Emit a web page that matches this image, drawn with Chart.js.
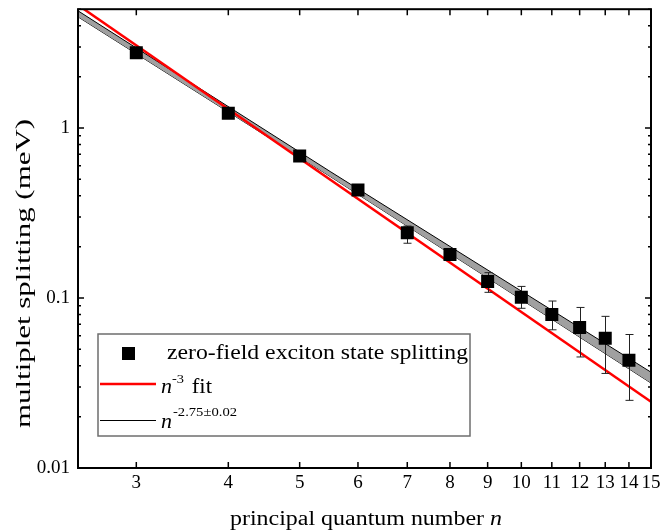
<!DOCTYPE html>
<html><head><meta charset="utf-8">
<script src="https://cdn.jsdelivr.net/npm/chart.js@4/dist/chart.umd.min.js"></script>
<style>html,body{margin:0;padding:0;background:#fff}</style>
</head><body>
<canvas id="c" width="663" height="532"></canvas>
<script>
// ---- data ----
const nValues   = [3, 4, 5, 6, 7, 8, 9, 10, 11, 12, 13, 14];
const splitting = [2.77, 1.22, 0.684, 0.432, 0.242, 0.18, 0.125, 0.101, 0.080, 0.067, 0.058, 0.043];
const errHigh   = [null, null, null, null, 0.265, null, 0.141, 0.117, 0.096, 0.088, 0.078, 0.061];
const errLow    = [null, null, null, null, 0.21, null, 0.108, 0.087, 0.065, 0.045, 0.036, 0.025];
const cubeFitN  = [2.5, 15];
const cubeFit   = [5.29, 0.0245];
const powFitN   = [2.5, 15];
const powFit    = [4.7, 0.034];
const bandN     = [2.5, 5.5, 15];
const bandUpper = [4.89, 0.555, 0.0366];
const bandLower = [4.51, 0.519, 0.0316];
const xTickValues = [3, 4, 5, 6, 7, 8, 9, 10, 11, 12, 13, 14, 15];
const yMajorTicks = [0.01, 0.1, 1];
const yTickLabels = ['0.01', '0.1', '1'];
const yMinorTicks = [0.02, 0.03, 0.04, 0.05, 0.06, 0.07, 0.08, 0.09, 0.2, 0.3, 0.4, 0.5, 0.6, 0.7, 0.8, 0.9, 2, 3, 4, 5];
const legendLabels = ['zero-field exciton state splitting', 'n', '-3', ' fit', 'n', '-2.75\u00B10.02'];
const xTitleParts = ['principal quantum number ', 'n'];
const yTitle = 'multiplet splitting (meV)';

const SERIF = '"Liberation Serif", "Times New Roman", serif';
const pts = (xs, ys) => xs.map((x, i) => ({x: x, y: ys[i]}));

function fitText(ctx, txt, x, y, font, width) {
  ctx.save();
  ctx.font = font;
  const w = ctx.measureText(txt).width;
  const s = width ? width / w : 1;
  ctx.translate(x, y);
  ctx.scale(s, 1);
  ctx.textAlign = 'left';
  ctx.textBaseline = 'alphabetic';
  ctx.fillText(txt, 0, 0);
  ctx.restore();
  return w * s;
}

const decor = {
  id: 'decor',
  beforeDatasetDraw(chart, args) {
    if (args.index !== 0) return;
    const ctx = chart.ctx, xs = chart.scales.x, ys = chart.scales.y;
    ctx.save();
    ctx.strokeStyle = '#222';
    ctx.lineWidth = 1;
    nValues.forEach((n, i) => {
      if (errHigh[i] == null) return;
      const px = Math.round(xs.getPixelForValue(n)) + 0.5;
      const y1 = ys.getPixelForValue(errHigh[i]);
      const y2 = ys.getPixelForValue(errLow[i]);
      ctx.beginPath();
      ctx.moveTo(px, y1); ctx.lineTo(px, y2);
      ctx.moveTo(px - 4, y1); ctx.lineTo(px + 4, y1);
      ctx.moveTo(px - 4, y2); ctx.lineTo(px + 4, y2);
      ctx.stroke();
    });
    ctx.restore();
  },
  afterDraw(chart) {
    const ctx = chart.ctx, a = chart.chartArea, xs = chart.scales.x, ys = chart.scales.y;
    ctx.save();
    // ticks (inward, mirrored)
    ctx.strokeStyle = '#000';
    ctx.lineWidth = 1.5;
    ctx.beginPath();
    xTickValues.forEach(v => {
      const p = xs.getPixelForValue(v);
      ctx.moveTo(p, a.bottom); ctx.lineTo(p, a.bottom - 6);
      ctx.moveTo(p, a.top); ctx.lineTo(p, a.top + 6);
    });
    yMajorTicks.forEach(v => {
      const p = ys.getPixelForValue(v);
      ctx.moveTo(a.left, p); ctx.lineTo(a.left + 6, p);
      ctx.moveTo(a.right, p); ctx.lineTo(a.right - 6, p);
    });
    yMinorTicks.forEach(v => {
      const p = ys.getPixelForValue(v);
      ctx.moveTo(a.left, p); ctx.lineTo(a.left + 3, p);
      ctx.moveTo(a.right, p); ctx.lineTo(a.right - 3, p);
    });
    ctx.stroke();
    // frame
    ctx.lineWidth = 2;
    ctx.strokeRect(a.left, a.top, a.right - a.left, a.bottom - a.top);

    // legend
    ctx.fillStyle = '#fff';
    ctx.fillRect(98, 334, 372, 102);
    ctx.strokeStyle = '#6e6e6e';
    ctx.lineWidth = 1.5;
    ctx.strokeRect(98, 334, 372, 102);
    ctx.fillStyle = '#000';
    ctx.fillRect(122, 347, 13, 13);
    fitText(ctx, legendLabels[0], 167, 359, '20px ' + SERIF, 301);
    ctx.strokeStyle = '#ff0000';
    ctx.lineWidth = 2.5;
    ctx.beginPath(); ctx.moveTo(100, 384); ctx.lineTo(156, 384); ctx.stroke();
    fitText(ctx, legendLabels[1], 161, 393, 'italic 20px ' + SERIF, 11);
    fitText(ctx, legendLabels[2], 172, 383, '13px ' + SERIF, 12);
    fitText(ctx, legendLabels[3], 186, 393, '20px ' + SERIF, 26);
    ctx.strokeStyle = '#000';
    ctx.lineWidth = 1;
    ctx.beginPath(); ctx.moveTo(100, 420.5); ctx.lineTo(156, 420.5); ctx.stroke();
    fitText(ctx, legendLabels[4], 161, 428, 'italic 20px ' + SERIF, 11);
    fitText(ctx, legendLabels[5], 173, 416, '12px ' + SERIF, 64);

    // axis titles
    ctx.font = '20px ' + SERIF;
    const w1 = ctx.measureText(xTitleParts[0]).width;
    ctx.font = 'italic 20px ' + SERIF;
    const w2 = ctx.measureText(xTitleParts[1]).width;
    const s = 272 / (w1 + w2);
    fitText(ctx, xTitleParts[0], 230, 525, '20px ' + SERIF, w1 * s);
    fitText(ctx, xTitleParts[1], 230 + w1 * s, 525, 'italic 20px ' + SERIF, w2 * s);

    ctx.save();
    ctx.translate(30, 273.5);
    ctx.rotate(-Math.PI / 2);
    fitText(ctx, yTitle, -154.5, 0, '21px ' + SERIF, 309);
    ctx.restore();
    ctx.restore();
  }
};

new Chart(document.getElementById('c'), {
  type: 'line',
  data: {
    datasets: [
      {
        label: 'zero-field exciton state splitting',
        data: pts(nValues, splitting),
        showLine: false,
        pointStyle: 'rect',
        pointRadius: 9.2,
        pointBackgroundColor: '#000',
        pointBorderWidth: 0,
        borderColor: '#000',
        order: 0
      },
      {
        label: 'n^-3 fit',
        data: pts(cubeFitN, cubeFit),
        borderColor: '#ff0000',
        borderWidth: 2.5,
        pointRadius: 0,
        fill: false,
        order: 1
      },
      {
        label: 'upper',
        data: pts(bandN, bandUpper),
        borderColor: '#000',
        borderWidth: 1,
        pointRadius: 0,
        backgroundColor: '#a0a0a0',
        fill: '+2',
        order: 2
      },
      {
        label: 'n^-2.75',
        data: pts(powFitN, powFit),
        borderColor: '#000',
        borderWidth: 1,
        pointRadius: 0,
        fill: false,
        order: 3
      },
      {
        label: 'lower',
        data: pts(bandN, bandLower),
        borderColor: '#000',
        borderWidth: 1,
        pointRadius: 0,
        fill: false,
        order: 4
      }
    ]
  },
  options: {
    responsive: false,
    animation: false,
    devicePixelRatio: 1,
    layout: {padding: {left: 0, right: 12, top: 6, bottom: 0}},
    plugins: {legend: {display: false}, tooltip: {enabled: false}},
    elements: {line: {tension: 0}},
    scales: {
      x: {
        type: 'logarithmic',
        min: 2.5, max: 15,
        bounds: 'data',
        grid: {display: false, drawTicks: false},
        border: {display: false},
        ticks: {
          autoSkip: false, maxRotation: 0, padding: 4, color: '#000',
          font: {family: SERIF, size: 19},
          callback: (v) => xTickValues.includes(v) ? String(v) : ''
        },
        afterBuildTicks: (s) => { s.ticks = xTickValues.map(v => ({value: v})); },
        afterFit: (s) => { s.height = 64; s.paddingLeft = 0; s.paddingRight = 0; }
      },
      y: {
        type: 'logarithmic',
        min: 0.01, max: 5,
        bounds: 'data',
        grid: {display: false, drawTicks: false},
        border: {display: false},
        ticks: {
          autoSkip: false, padding: 8, color: '#000',
          font: {family: SERIF, size: 19},
          callback: (v) => { const i = yMajorTicks.findIndex(m => Math.abs(m - v) < 1e-9); return i >= 0 ? yTickLabels[i] : ''; }
        },
        afterBuildTicks: (s) => { s.ticks = yMajorTicks.concat(yMinorTicks).sort((a, b) => a - b).map(v => ({value: v})); },
        afterFit: (s) => { s.width = 78; s.paddingTop = 0; s.paddingBottom = 0; }
      }
    }
  },
  plugins: [decor]
});
</script>
</body></html>
